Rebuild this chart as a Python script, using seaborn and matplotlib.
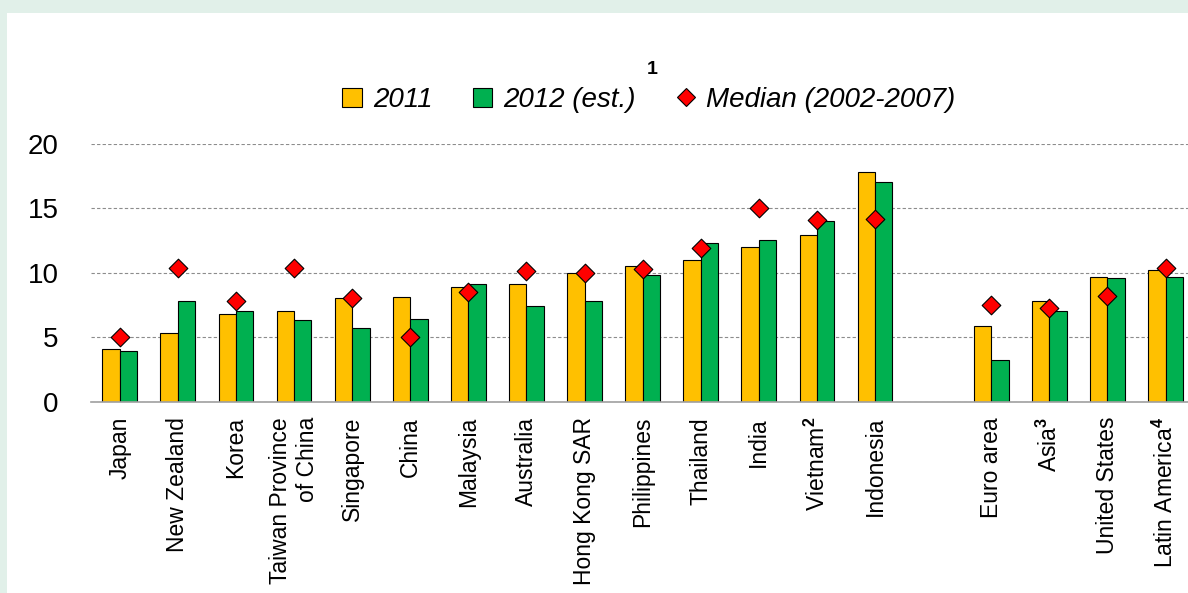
import matplotlib
matplotlib.use("Agg")
import matplotlib.pyplot as plt
from matplotlib.lines import Line2D
from matplotlib.patches import Patch, Rectangle
import seaborn as sns
import pandas as pd
import numpy as np

regions = ["Japan", "New Zealand", "Korea", "Taiwan Province\nof China", "Singapore",
           "China", "Malaysia", "Australia", "Hong Kong SAR", "Philippines", "Thailand",
           "India", "Vietnam$^{\\mathbf{2}}$", "Indonesia",
           "Euro area", "Asia$^{\\mathbf{3}}$", "United States", "Latin America$^{\\mathbf{4}}$"]
v2011 = [4.1, 5.3, 6.8, 7.0, 8.0, 8.1, 8.9, 9.1, 10.0, 10.5, 11.0, 12.0, 12.9, 17.8,
         5.9, 7.8, 9.7, 10.2]
v2012 = [3.9, 7.8, 7.0, 6.3, 5.7, 6.4, 9.1, 7.4, 7.8, 9.8, 12.3, 12.5, 14.0, 17.0,
         3.2, 7.0, 9.6, 9.7]
median = [5.0, 10.4, 7.8, 10.4, 8.0, 5.0, 8.5, 10.1, 10.0, 10.3, 11.9, 15.0, 14.1, 14.2,
          7.5, 7.3, 8.2, 10.4]
series = ["2011", "2012 (est.)"]

# blank slot between the countries and the regional aggregates
order = regions[:14] + [" "] + regions[14:]

YELLOW = "#FFC000"
GREEN = "#00B050"

bars = pd.DataFrame({
    "region": regions * 2,
    "value": v2011 + v2012,
    "series": [series[0]] * len(regions) + [series[1]] * len(regions),
})
meds = pd.DataFrame({"region": regions, "median": median})

sns.set_style("white")
plt.rcParams["font.family"] = ["Liberation Sans", "DejaVu Sans"]
plt.rcParams["text.color"] = "black"
plt.rcParams["mathtext.fontset"] = "custom"
plt.rcParams["mathtext.rm"] = "Liberation Sans"
plt.rcParams["mathtext.bf"] = "Liberation Sans:bold"

fig = plt.figure(figsize=(11.88, 5.93), dpi=100)
fig.patch.set_facecolor("#e1f0e9")
fig.add_artist(Rectangle((7 / 1188, 0), 1, 1 - 13 / 593, transform=fig.transFigure,
                         facecolor="white", edgecolor="none", zorder=-1))

ax = fig.add_axes([90.7 / 1188, 0.3226, 19 * 58.1 / 1188, 0.4351])
ax.patch.set_alpha(0)

sns.barplot(data=bars, x="region", y="value", hue="series", order=order,
            hue_order=series, palette=[YELLOW, GREEN], saturation=1, width=0.6, gap=0,
            edgecolor="black", linewidth=0.8, errorbar=None, legend=False, ax=ax)
sns.stripplot(data=meds, x="region", y="median", order=order, jitter=False,
              marker="D", size=9.5, color="red", edgecolor="black", linewidth=0.8,
              ax=ax, zorder=4)

ax.set_xlim(-0.5, 18.5)
ax.set_ylim(0, 20)
ax.set_xlabel("")
ax.set_ylabel("")

ax.set_yticks([0, 5, 10, 15, 20])
ax.set_yticklabels(["0", "5", "10", "15", "20"], fontsize=20)
ax.tick_params(axis="y", length=0, pad=23, labelcolor="black")
ax.yaxis.grid(True, linestyle=(0, (3, 2)), color="#8c8c8c", linewidth=0.8)
ax.set_axisbelow(True)

ax.set_xticks(range(len(order)))
ax.set_xticklabels(order, rotation=90, fontsize=16.5, ha="center", va="top",
                   multialignment="right")
ax.set_xticks(np.arange(-0.5, len(order), 1), minor=True)
ax.tick_params(axis="x", which="major", length=0, pad=11, labelcolor="black")
ax.tick_params(axis="x", which="minor", length=7, width=1, color="#a0a0a0",
               direction="out")

for side in ["left", "top", "right"]:
    ax.spines[side].set_visible(False)
ax.spines["bottom"].set_color("#a0a0a0")
ax.spines["bottom"].set_linewidth(1.2)

handles = [
    Patch(facecolor=YELLOW, edgecolor="black", linewidth=0.8),
    Patch(facecolor=GREEN, edgecolor="black", linewidth=0.8),
    Line2D([], [], marker="D", linestyle="", markersize=9, markerfacecolor="red",
           markeredgecolor="black", markeredgewidth=0.8),
]
fig.legend(handles, ["2011", "2012 (est.)", "Median (2002-2007)"], loc="center",
           bbox_to_anchor=(649 / 1188, 1 - 100 / 593), ncol=3, frameon=False,
           prop={"style": "italic", "size": 20}, handlelength=0.7, handleheight=0.7,
           handletextpad=0.4, columnspacing=1.45)
fig.text(652 / 1188, 1 - 70 / 593, "1", fontsize=14, fontweight="bold",
         ha="center", va="center")

fig.savefig("out.png", dpi=100)
